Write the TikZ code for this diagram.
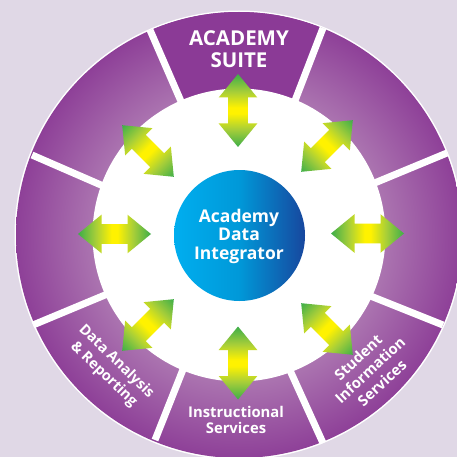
\documentclass[tikz,border=0pt]{standalone}
\usepackage{fontspec}
\setmainfont{Open Sans}
\usetikzlibrary{calc}
\definecolor{bgc}{HTML}{E0D8E6}
\definecolor{ringin}{HTML}{AB74B0}
\definecolor{ringout}{HTML}{8E4098}
\definecolor{topseg}{HTML}{8B3A96}
\definecolor{tipc}{HTML}{3DAE49}
\definecolor{tipb}{HTML}{A6CE39}
\definecolor{midc}{HTML}{FFF200}
\definecolor{hubl}{HTML}{00AEEF}
\definecolor{hubm}{HTML}{0098D8}
\definecolor{hubr}{HTML}{17479E}
\pgfdeclareradialshading{ringshade}{\pgfpoint{0bp}{0bp}}{
  color(0bp)=(ringin); color(16.4bp)=(ringin); color(25bp)=(ringout); color(50bp)=(ringout)}
\pgfdeclarehorizontalshading{hubshade}{100bp}{
  color(0bp)=(hubl); color(25bp)=(hubl); color(50bp)=(hubm); color(75bp)=(hubr); color(100bp)=(hubr)}
\pgfdeclareverticalshading{arrowshade}{100bp}{
  color(0bp)=(tipc); color(25bp)=(tipc); color(37bp)=(tipb); color(48bp)=(midc); color(52bp)=(midc);
  color(63bp)=(tipb); color(75bp)=(tipc); color(100bp)=(tipc)}
\tikzset{
  lbl/.style={text=white,align=center,inner sep=0pt},
  sep/.style={white,line width=7pt},
  dblarrow/.style={shading=arrowshade,draw=none}
}
\newcommand{\dblarr}[3]{% centre x, centre y, angle
  \shade[dblarrow,transform canvas={shift={(#1,#2)},rotate=#3}]
    (0,-36.5) -- (19.3,-13) -- (9.8,-13) -- (9.8,13) -- (19.3,13) -- (0,36.5)
    -- (-19.3,13) -- (-9.8,13) -- (-9.8,-13) -- (-19.3,-13) -- cycle;}
\begin{document}
\begin{tikzpicture}[x=1pt,y=-1pt]
\useasboundingbox (0,0) rectangle (457,457);
\clip (0,0) rectangle (457,457);
\fill[bgc] (0,0) rectangle (457,457);
\coordinate (c) at (239,235);
\fill[white] (c) circle (224.5pt);
\shade[shading=ringshade] (c) circle (223pt);
\begin{scope}
  \clip (c) circle (223pt);
  \fill[topseg] (140,7) -- (180,99) -- (296,98) -- (332,5) -- cycle;
\end{scope}
\foreach \xa/\ya/\xb/\yb in {150/30/180/99, 323/28/296/98, 447/153/377/182, 443/325/373/297,
    323/443/293/377, 155/440/182/372, 33/325/105/295, 32/155/101/185}
  \draw[sep] (\xa,\ya) -- ($(\xa,\ya)!1.1!(\xb,\yb)$);
\fill[white] (c) circle (146.5pt);
\shade[shading=hubshade] (239.5,235.5) circle (65.5pt);
\dblarr{238}{110.5}{0}
\dblarr{238}{363}{0}
\dblarr{114.5}{234}{90}
\dblarr{367.5}{233.5}{90}
\dblarr{148}{151}{45}
\dblarr{327}{146}{-45}
\dblarr{148}{325}{-45}
\dblarr{327}{329}{45}
\node[lbl,font=\bfseries\fontsize{20.5}{22}\selectfont] (suite) at (239,49) {ACADEMY\\SUITE};
\node[lbl,font=\bfseries\fontsize{17.5}{18.5}\selectfont] (hub) at (239,236) {Academy\\Data\\Integrator};
\node[lbl,font=\bfseries\fontsize{14.8}{15.5}\selectfont] (instr) at (236,420) {Instructional\\Services};
\node[lbl,font=\bfseries\fontsize{14.5}{18}\selectfont,rotate=-44] (data) at (110,368) {Data Analysis\\\& Reporting};
\node[lbl,font=\bfseries\fontsize{14.8}{17.5}\selectfont,rotate=43] (student) at (370,370) {Student\\Information\\Services};
\end{tikzpicture}
\end{document}
